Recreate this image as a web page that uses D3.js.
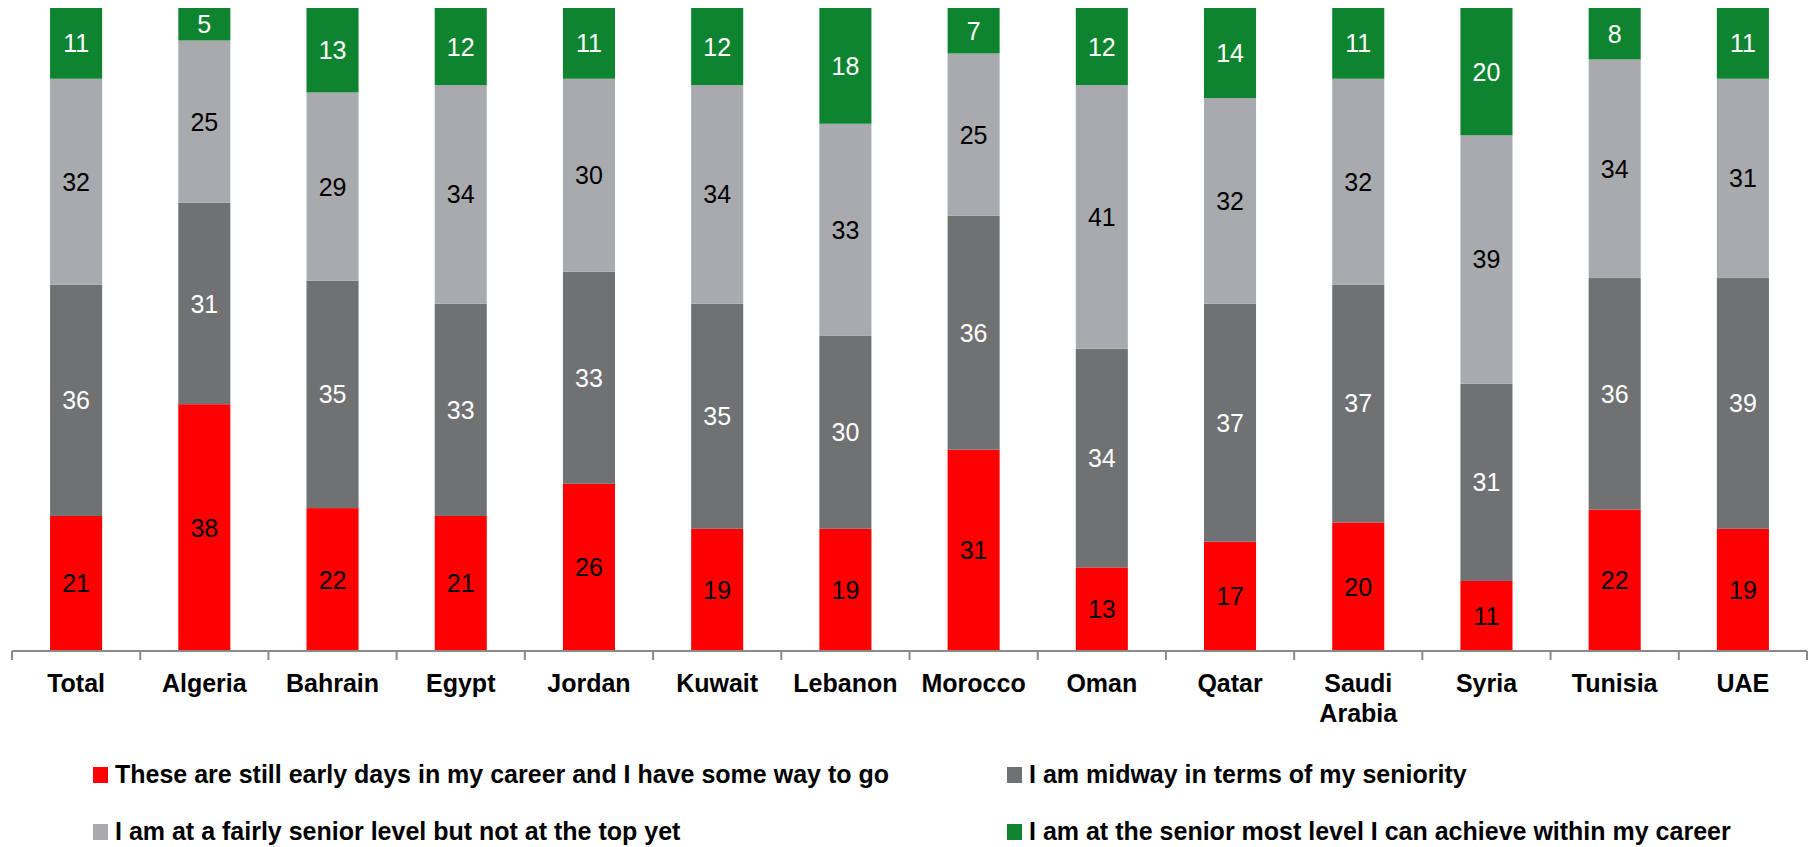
<!DOCTYPE html>
<html>
<head>
<meta charset="utf-8">
<script src="https://cdn.jsdelivr.net/npm/d3@7/dist/d3.min.js"></script>
<style>
  html, body { margin: 0; padding: 0; background: #ffffff; }
  svg { display: block; }
  text { font-family: "Liberation Sans", Arial, sans-serif; }
</style>
</head>
<body>
<svg id="chart" width="1815" height="847"></svg>
<script>
// Countries surveyed (plus the overall total)
const categories = ["Total", "Algeria", "Bahrain", "Egypt", "Jordan", "Kuwait", "Lebanon",
  "Morocco", "Oman", "Qatar", "Saudi Arabia", "Syria", "Tunisia", "UAE"];

// Share of respondents (%) for each career-stage answer
const earlyDays    = [21, 38, 22, 21, 26, 19, 19, 31, 13, 17, 20, 11, 22, 19];
const midway       = [36, 31, 35, 33, 33, 35, 30, 36, 34, 37, 37, 31, 36, 39];
const fairlySenior = [32, 25, 29, 34, 30, 34, 33, 25, 41, 32, 32, 39, 34, 31];
const seniorMost   = [11,  5, 13, 12, 11, 12, 18,  7, 12, 14, 11, 20,  8, 11];

const seriesNames = [
  "These are still early days in my career and I have some way to go",
  "I am midway in terms of my seniority",
  "I am at a fairly senior level but not at the top yet",
  "I am at the senior most level I can achieve within my career"
];
const seriesKeys = ["early", "midway", "fairly", "senior"];
const seriesColors = ["#ff0000", "#707173", "#a9aaae", "#0e8431"];
const labelColors  = ["#000000", "#ffffff", "#000000", "#ffffff"];

const rows = categories.map((c, i) => ({
  category: c,
  early: earlyDays[i],
  midway: midway[i],
  fairly: fairlySenior[i],
  senior: seniorMost[i]
}));

const svg = d3.select("#chart");

const x = d3.scaleBand()
  .domain(categories)
  .range([12, 1807])
  .paddingInner(0.594)
  .paddingOuter(0.297);

const y = d3.scaleLinear().domain([0, 1]).range([651, 8]);

const stacked = d3.stack()
  .keys(seriesKeys)
  .offset(d3.stackOffsetExpand)(rows);

const color = d3.scaleOrdinal().domain(seriesKeys).range(seriesColors);
const textColor = d3.scaleOrdinal().domain(seriesKeys).range(labelColors);

// Stacked 100% bars
const layers = svg.append("g").selectAll("g")
  .data(stacked)
  .join("g")
  .attr("fill", d => color(d.key));

layers.selectAll("rect")
  .data(d => d)
  .join("rect")
  .attr("x", d => x(d.data.category))
  .attr("width", x.bandwidth())
  .attr("y", d => y(d[1]))
  .attr("height", d => y(d[0]) - y(d[1]));

// Segment value labels
const labelLayers = svg.append("g").selectAll("g")
  .data(stacked)
  .join("g")
  .attr("fill", d => textColor(d.key));

labelLayers.selectAll("text")
  .data(d => d.map(v => ({ v, key: d.key })))
  .join("text")
  .attr("x", d => x(d.v.data.category) + x.bandwidth() / 2)
  .attr("y", d => (y(d.v[0]) + y(d.v[1])) / 2)
  .attr("text-anchor", "middle")
  .attr("dominant-baseline", "central")
  .style("font-size", "25px")
  .text(d => d.v.data[d.key]);

// Category axis with ticks between the bands
const axisG = svg.append("g");
const step = x.step();
const x0 = x.range()[0];
const x1 = x.range()[1];
axisG.append("line")
  .attr("x1", x0).attr("x2", x1)
  .attr("y1", 651).attr("y2", 651)
  .attr("stroke", "#8a8a8a").attr("stroke-width", 2);
axisG.selectAll("line.tick")
  .data(d3.range(categories.length + 1))
  .join("line")
  .attr("class", "tick")
  .attr("x1", i => x0 + i * step).attr("x2", i => x0 + i * step)
  .attr("y1", 651).attr("y2", 660)
  .attr("stroke", "#8a8a8a").attr("stroke-width", 2);

const catLabels = axisG.selectAll("text.cat")
  .data(categories)
  .join("text")
  .attr("class", "cat")
  .attr("x", d => x(d) + x.bandwidth() / 2)
  .attr("y", 692)
  .attr("text-anchor", "middle")
  .style("font-size", "25px")
  .style("font-weight", "bold")
  .attr("fill", "#000");

// Wrap long category names onto extra lines
catLabels.each(function(d) {
  const t = d3.select(this);
  const words = d.split(" ");
  let line = [];
  let lineNo = 0;
  let tspan = t.append("tspan").attr("x", x(d) + x.bandwidth() / 2).attr("dy", 0);
  words.forEach(w => {
    line.push(w);
    tspan.text(line.join(" "));
    if (tspan.node().getComputedTextLength() > step - 8 && line.length > 1) {
      line.pop();
      tspan.text(line.join(" "));
      line = [w];
      lineNo++;
      tspan = t.append("tspan").attr("x", x(d) + x.bandwidth() / 2).attr("dy", 30).text(w);
    }
  });
});

// Legend: two columns, two rows
const legendPos = [
  { sx: 93, cy: 775 },
  { sx: 1007, cy: 775 },
  { sx: 93, cy: 832 },
  { sx: 1007, cy: 832 }
];
const legend = svg.append("g").selectAll("g")
  .data(seriesKeys)
  .join("g")
  .attr("transform", (d, i) => `translate(${legendPos[i].sx},${legendPos[i].cy})`);

legend.append("rect")
  .attr("x", 0).attr("y", -8)
  .attr("width", 15).attr("height", 16)
  .attr("fill", d => color(d));

legend.append("text")
  .attr("x", 22)
  .attr("y", 8)
  .style("font-size", "25px")
  .style("font-weight", "bold")
  .attr("fill", "#000")
  .text((d, i) => seriesNames[i]);
</script>
</body>
</html>
